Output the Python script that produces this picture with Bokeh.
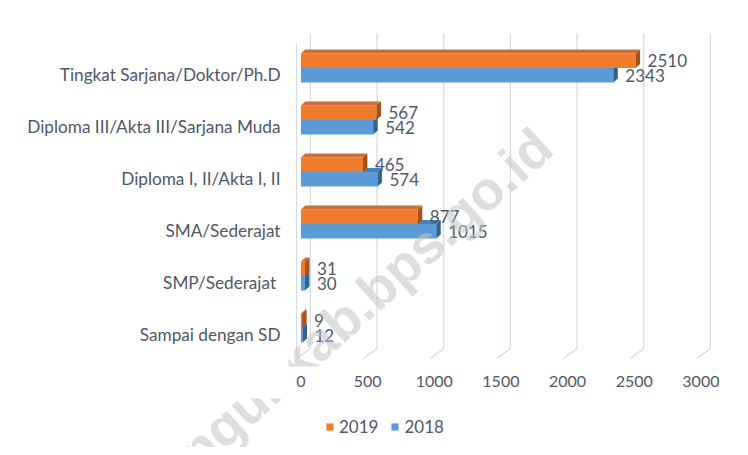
from bokeh.plotting import figure
from bokeh.layouts import column
from bokeh.models import FixedTicker, Label, Legend, LegendItem
from bokeh.embed import file_html
from bokeh.resources import INLINE
from bokeh.core.properties import value

# ---- data ----
categories = ["Sampai dengan SD", "SMP/Sederajat ", "SMA/Sederajat",
              "Diploma I, II/Akta I, II", "Diploma III/Akta III/Sarjana Muda",
              "Tingkat Sarjana/Doktor/Ph.D"]
values_2019 = [9, 31, 877, 465, 567, 2510]
values_2018 = [12, 30, 1015, 574, 542, 2343]
x_ticks = [0, 500, 1000, 1500, 2000, 2500, 3000]
series_names = ["2019", "2018"]

# ---- style / geometry ----
UX = 7.5            # value units per pixel
UY = 1 / 52.0       # category units per pixel
TEXT = "#4f5868"
FONT = "Lato"
GRID = "#d6dbe2"
ORANGE = ("#f27c2e", "#c4703f", "#a9501b")
BLUE = ("#5b9bd8", "#4a80b8", "#2f6398")
WM_TEXT = "ngunkab.bps.go.id"
WM_COLOR = "#c2c2c2"


def vy(py):  # vertical pixel position -> category units (top label at 75.5)
    return 5 - (py - 75.5) * UY


def vx(px):  # horizontal pixel position -> value units (zero at 302.4)
    return (px - 302.4) * UX


p = figure(width=740, height=398, x_range=(vx(290), vx(734)), y_range=(vy(368), vy(30)),
           output_backend="svg", toolbar_location=None,
           min_border_left=288, min_border_right=8, min_border_top=28, min_border_bottom=32)
p.frame_align = False
p.outline_line_color = None
p.grid.visible = False
p.background_fill_color = "white"
p.border_fill_color = "white"

# 3D gridlines (back wall verticals + floor diagonals)
gx, gy = [], []
for t in x_ticks:
    gx.append([t + 9.5 * UX, t + 9.5 * UX, t - 4 * UX])
    gy.append([vy(35), vy(350), vy(360)])
p.multi_line(gx, gy, line_color=GRID, line_width=1.3)
# left wall edge
p.line([-4.4 * UX, -4.4 * UX], [vy(45), vy(358)], line_color=GRID, line_width=1.3)

# bars
h = 14.5 * UY
dx = 4.5 * UX
dy = 4.0 * UY
off = 6 * UY


def faces(vals, lower):
    fr_x, fr_y, tp_x, tp_y, sd_x, sd_y = [], [], [], [], [], []
    for i, v in enumerate(vals):
        b = i + off
        y0, y1 = (b - h, b) if lower else (b, b + h)
        fr_x.append([0, v, v, 0]); fr_y.append([y0, y0, y1, y1])
        tp_x.append([0, v, v + dx, dx]); tp_y.append([y1, y1, y1 + dy, y1 + dy])
        sd_x.append([v, v, v + dx, v + dx]); sd_y.append([y0, y1, y1 + dy, y0 + dy])
    return fr_x, fr_y, tp_x, tp_y, sd_x, sd_y


for vals, lower, cols in [(values_2018, True, BLUE), (values_2019, False, ORANGE)]:
    fx, fy, tx, ty, sx, sy = faces(vals, lower)
    p.patches(fx, fy, fill_color=cols[0], line_color=None)
    p.patches(tx, ty, fill_color=cols[1], line_color=None)
    p.patches(sx, sy, fill_color=cols[2], line_color=None)
    ly = [i + off + (-h / 2 if lower else h / 2) for i in range(len(vals))]
    p.text(x=vals, y=ly, text=[str(v) for v in vals], x_offset=12,
           text_baseline="middle", text_align="left", text_font=value(FONT),
           text_font_size="17px", text_color=TEXT)

# axes
p.xaxis.ticker = FixedTicker(ticks=x_ticks)
p.xaxis.axis_line_color = None
p.xaxis.major_tick_line_color = None
p.xaxis.minor_tick_line_color = None
p.xaxis.major_tick_out = 0
p.xaxis.major_label_standoff = 9
p.xaxis.major_label_text_font = FONT
p.xaxis.major_label_text_font_size = "16px"
p.xaxis.major_label_text_color = TEXT

p.yaxis.ticker = FixedTicker(ticks=list(range(len(categories))))
p.yaxis.major_label_overrides = {i: c for i, c in enumerate(categories)}
p.yaxis.axis_line_color = None
p.yaxis.major_tick_line_color = None
p.yaxis.minor_tick_line_color = None
p.yaxis.major_tick_out = 0
p.yaxis.major_label_standoff = 8
p.yaxis.major_label_text_font = FONT
p.yaxis.major_label_text_font_size = "17.2px"
p.yaxis.major_label_text_color = TEXT

wm = Label(x=vx(565), y=vy(162), text=WM_TEXT, text_align="right",
           angle=0.733, text_font="Liberation Sans", text_font_style="bold",
           text_font_size="54px", text_color=WM_COLOR, text_alpha=0.55,
           level="overlay")
p.add_layout(wm)

# legend strip below
p2 = figure(width=740, height=49, x_range=(0, 740), y_range=(0, 49),
            output_backend="svg", toolbar_location=None,
            min_border=0, min_border_left=0, min_border_right=0,
            min_border_top=0, min_border_bottom=0)
p2.frame_align = False
p2.axis.visible = False
p2.grid.visible = False
p2.outline_line_color = None
p2.background_fill_color = "white"
p2.border_fill_color = "white"
r19 = p2.patches([[]], [[]], fill_color=ORANGE[0], line_color=None)
r18 = p2.patches([[]], [[]], fill_color=BLUE[0], line_color=None)
legend = Legend(items=[LegendItem(label=series_names[0], renderers=[r19]),
                       LegendItem(label=series_names[1], renderers=[r18])],
                orientation="horizontal", location=(325, 10), padding=0, margin=0,
                glyph_width=9, glyph_height=9, label_standoff=5, spacing=12,
                label_text_font=FONT, label_text_font_size="17px", label_text_color=TEXT,
                border_line_color=None, background_fill_alpha=0)
p2.add_layout(legend, "center")
wm2 = Label(x=563, y=449 - 162, text=WM_TEXT, text_align="right",
            angle=0.733, text_font="Liberation Sans", text_font_style="bold",
            text_font_size="54px", text_color=WM_COLOR, text_alpha=0.55,
            level="overlay")
p2.add_layout(wm2)

layout = column(p, p2, spacing=0)
open("out.html", "w").write(file_html(layout, INLINE))
